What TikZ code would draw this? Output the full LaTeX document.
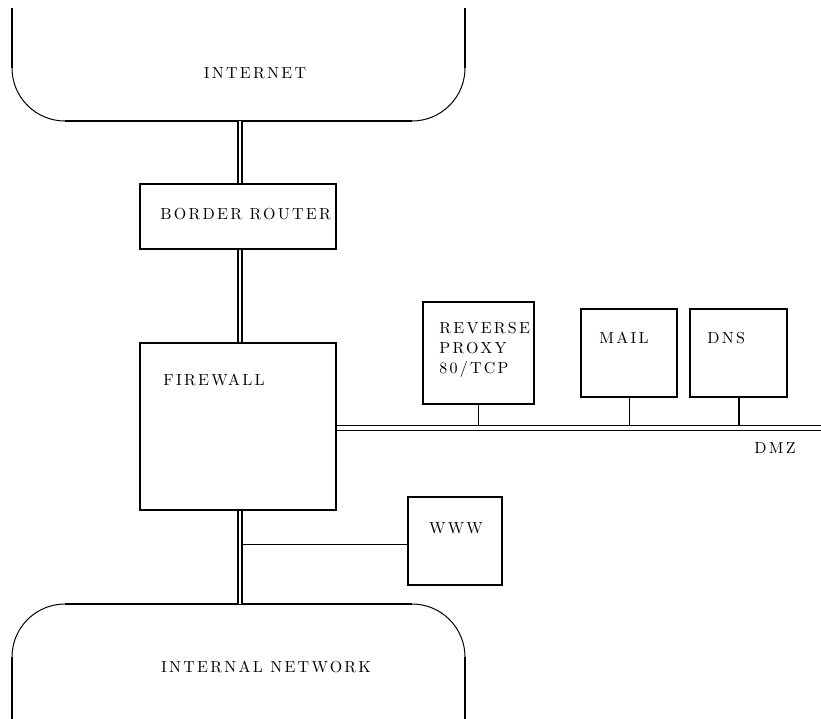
\documentclass[tikz,border=0pt]{standalone}
\usepackage{fontspec}
\setmainfont{lmroman10-regular.otf}[LetterSpace=14]
\usepackage{tikz}

\begin{document}
\begin{tikzpicture}[x=0.5pt,y=-0.5pt]
    \tikzstyle{every node}=[font=\fontsize{8}{10}\selectfont]
    \tikzstyle{box}=[draw,line width=1pt,inner sep=0pt]
    \tikzstyle{label}=[inner sep=0pt,align=left,anchor=west]
    \tikzstyle{link}=[double,line width=0.9pt,double distance=1.1pt]
    \tikzstyle{bus}=[double,line width=0.7pt,double distance=1.8pt]
    \tikzstyle{tap}=[line width=0.5pt]
    \tikzstyle{edge}=[line width=1pt]
    \tikzstyle{curve}=[line width=0.5pt]
    \useasboundingbox (0,0) rectangle (821,719);

    \draw[edge] (12,8) -- (12,68);
    \draw[curve] (12,68) arc[start angle=180,end angle=90,radius=53];
    \draw[edge] (65,121) -- (412,121);
    \draw[curve] (412,121) arc[start angle=90,end angle=0,radius=53];
    \draw[edge] (465,68) -- (465,8);
    \coordinate (inet) at (240,121);
    \node (inetlabel) at (255,73) {INTERNET};

    \draw[edge] (65,604) -- (412,604);
    \draw[curve] (65,604) arc[start angle=270,end angle=180,radius=53];
    \draw[curve] (412,604) arc[start angle=270,end angle=360,radius=53];
    \draw[edge] (12,657) -- (12,719);
    \draw[edge] (465,657) -- (465,719);
    \coordinate (lan) at (240,604);
    \node (lanlabel) at (266,667) {INTERNAL NETWORK};

    \node[box,minimum width=98pt,minimum height=32.5pt] (router) at (238,216.5) {};
    \node[label] (routerlabel) at (160,214) {BORDER ROUTER};

    \node[box,minimum width=98pt,minimum height=83.5pt] (fw) at (238,426.5) {};
    \node[label] (fwlabel) at (163,380) {FIREWALL};

    \node[box,minimum width=55.5pt,minimum height=51pt] (proxy) at (478.5,353) {};
    \node[label] (proxylabel) at (439,350) {REVERSE\\PROXY\\80/TCP};

    \node[box,minimum width=48pt,minimum height=44pt] (mail) at (629,353) {};
    \node[label] (maillabel) at (599,338) {MAIL};

    \node[box,minimum width=48.5pt,minimum height=44pt] (dns) at (738.5,353) {};
    \node[label] (dnslabel) at (707,338) {DNS};

    \node[box,minimum width=47pt,minimum height=44pt] (www) at (455,541) {};
    \node (wwwlabel) at (456,528) {WWW};

    \coordinate (dmzend) at (821,428);
    \node (dmzlabel) at (775,448) {DMZ};

    \draw[link] (inet) -- (router.north -| inet);
    \draw[link] (router.south -| inet) -- (fw.north -| inet);

    \draw[tap] ([yshift=-1.5pt]www.west) -- ([yshift=-1.5pt]www.west -| inet);
    \draw[link] (fw.south -| inet) -- (lan);

    \draw[tap] (proxy.south) -- (proxy.south |- dmzend);
    \draw[tap] (mail.south) -- (mail.south |- dmzend);
    \draw[edge] (dns.south) -- (dns.south |- dmzend);
    \draw[bus] (fw.east |- dmzend) -- (dmzend);

\end{tikzpicture}
\end{document}
